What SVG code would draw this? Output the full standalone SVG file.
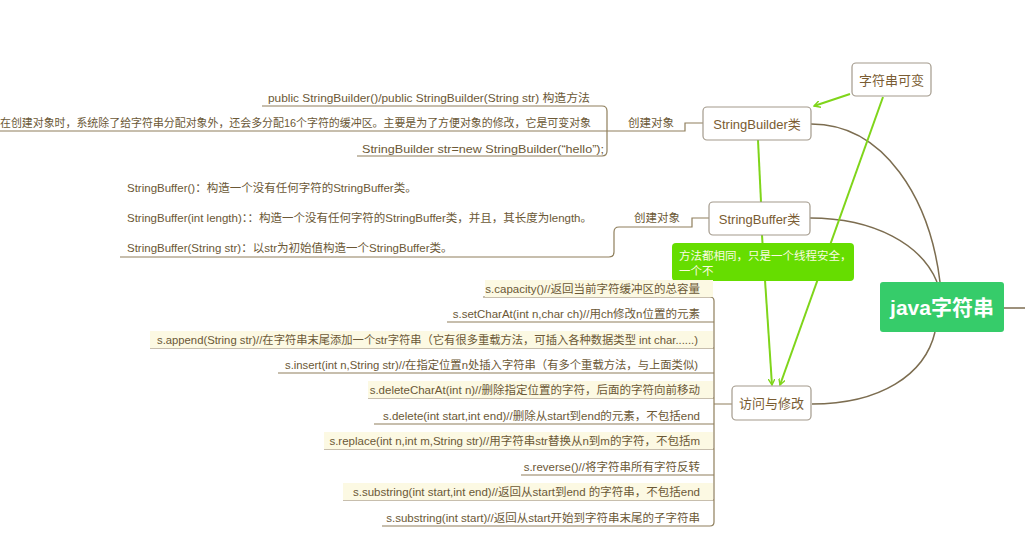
<svg xmlns="http://www.w3.org/2000/svg" width="1025" height="539" viewBox="0 0 1025 539">
<defs>
<style>
text{font-family:"Liberation Sans","Noto Sans CJK SC",sans-serif;}
.t{font-size:11.5px;fill:#6b5836;}
.it{font-size:11.5px;fill:#6b5836;text-anchor:end;}
.node{fill:#fff;stroke:#a39a8c;stroke-width:1.2;}
.nt{font-size:13px;fill:#7a5c32;text-anchor:middle;}
.ln{fill:none;stroke:#8f7f5c;stroke-width:1.2;}
.cv{fill:none;stroke:#7c6d50;stroke-width:1.5;}
.gl{fill:none;stroke:#7fd51a;stroke-width:2;}
.hl{fill:#fcf9e3;}
</style>
<marker id="ah" viewBox="0 0 10 10" refX="9" refY="5" markerWidth="7" markerHeight="7" orient="auto" markerUnits="userSpaceOnUse">
<path d="M0,0 L9,5 L0,10" fill="none" stroke="#7fd51a" stroke-width="2"/>
</marker>
</defs>
<rect width="1025" height="539" fill="#fff"/>

<g id="connectors">
<path class="ln" d="M262,106 H602 Q607,106 607,111 V151 Q607,156 602,156 H357"/>
<path class="ln" d="M0,131 H685 V123 H703"/>
<path class="ln" d="M120,257 H609 Q614,257 614,252 V232 Q614,227 619,227 H692 V218 H709"/>
<path class="ln" d="M483,297 H710 Q714,297 714,301 V522 Q714,526 710,526 H382"/>
<path class="ln" d="M447,322 H714 M150,348 H714 M278,373 H714 M368,398 H714 M374,424 H714 M324,449 H714 M521,475 H714 M343,500 H714 M714,404 H732"/>
<path class="cv" d="M811,124 C885,124 930,200 940,282"/>
<path class="cv" d="M810,218 C875,218 922,245 937,282"/>
<path class="cv" d="M812,404 C880,404 925,375 935,332"/>
<path class="cv" d="M1004,308 H1025"/>
<path class="gl" d="M850,94 L814,106" marker-end="url(#ah)"/>
<path class="gl" d="M883,97 L780,385" marker-end="url(#ah)"/>
<path class="gl" d="M758,140 L761,202"/>
<path class="gl" d="M762,235 L772,385" marker-end="url(#ah)"/>
</g>

<g id="sb-children">
<text class="t" x="268" y="102" textLength="322" lengthAdjust="spacingAndGlyphs">public StringBuilder()/public StringBuilder(String str)  构造方法</text>
<text class="t" x="0" y="127" textLength="591" lengthAdjust="spacingAndGlyphs">在创建对象时，系统除了给字符串分配对象外，还会多分配16个字符的缓冲区。主要是为了方便对象的修改，它是可变对象</text>
<text class="t" x="362" y="153" textLength="242" lengthAdjust="spacingAndGlyphs">StringBuilder str=new StringBuilder(“hello”);</text>
<text class="t" x="628" y="127">创建对象</text>
</g>

<g id="sbuf-children">
<text class="t" x="127" y="192">StringBuffer()：构造一个没有任何字符的StringBuffer类。</text>
<text class="t" x="127" y="222" textLength="465" lengthAdjust="spacingAndGlyphs">StringBuffer(int length)：：构造一个没有任何字符的StringBuffer类，并且，其长度为length。</text>
<text class="t" x="127" y="252">StringBuffer(String str)：以str为初始值构造一个StringBuffer类。</text>
<text class="t" x="634" y="222">创建对象</text>
</g>

<g id="node-stringbuilder">
<rect class="node" x="703" y="107" width="108" height="33" rx="4"/>
<text class="nt" x="757" y="129">StringBuilder类</text>
</g>

<g id="node-mutable">
<rect class="node" x="852" y="63" width="79" height="33" rx="4"/>
<text class="nt" x="891.5" y="85">字符串可变</text>
</g>

<g id="node-stringbuffer">
<rect class="node" x="709" y="202" width="101" height="33" rx="4"/>
<text class="nt" x="759.5" y="224">StringBuffer类</text>
</g>

<g id="note-same">
<rect x="672" y="243" width="182" height="38" rx="4" fill="#66dd00"/>
<text x="679" y="260" style="font-size:11.5px;fill:#fbfbe0">方法都相同，只是一个线程安全，</text>
<text x="679" y="275" style="font-size:11.5px;fill:#fbfbe0">一个不</text>
</g>

<g id="node-root">
<rect x="880" y="282" width="124" height="50" rx="3" fill="#36cc6a"/>
<text x="942" y="315" style="font-size:21px;fill:#fff;text-anchor:middle;font-weight:bold">java字符串</text>
</g>

<g id="node-access">
<rect class="node" x="732" y="386" width="79" height="34" rx="4"/>
<text class="nt" x="771.5" y="408">访问与修改</text>
</g>

<g id="access-items">
<rect class="hl" x="485" y="280" width="228" height="17"/>
<rect class="hl" x="150" y="331" width="563" height="17"/>
<rect class="hl" x="368" y="381" width="345" height="17"/>
<rect class="hl" x="324" y="432" width="389" height="17"/>
<rect class="hl" x="343" y="483" width="370" height="17"/>
<text class="it" x="700" y="293">s.capacity()//返回当前字符缓冲区的总容量</text>
<text class="it" x="700" y="318">s.setCharAt(int n,char ch)//用ch修改n位置的元素</text>
<text class="it" x="698" y="344" textLength="541" lengthAdjust="spacingAndGlyphs">s.append(String str)//在字符串末尾添加一个str字符串（它有很多重载方法，可插入各种数据类型 int char......)</text>
<text class="it" x="698" y="369" textLength="413" lengthAdjust="spacingAndGlyphs">s.insert(int n,String str)//在指定位置n处插入字符串（有多个重载方法，与上面类似)</text>
<text class="it" x="700" y="394">s.deleteCharAt(int n)//删除指定位置的字符，后面的字符向前移动</text>
<text class="it" x="700" y="420">s.delete(int start,int end)//删除从start到end的元素，不包括end</text>
<text class="it" x="700" y="445">s.replace(int n,int m,String str)//用字符串str替换从n到m的字符，不包括m</text>
<text class="it" x="700" y="471">s.reverse()//将字符串所有字符反转</text>
<text class="it" x="700" y="496">s.substring(int start,int end)//返回从start到end 的字符串，不包括end</text>
<text class="it" x="700" y="522">s.substring(int start)//返回从start开始到字符串末尾的子字符串</text>
</g>
</svg>
